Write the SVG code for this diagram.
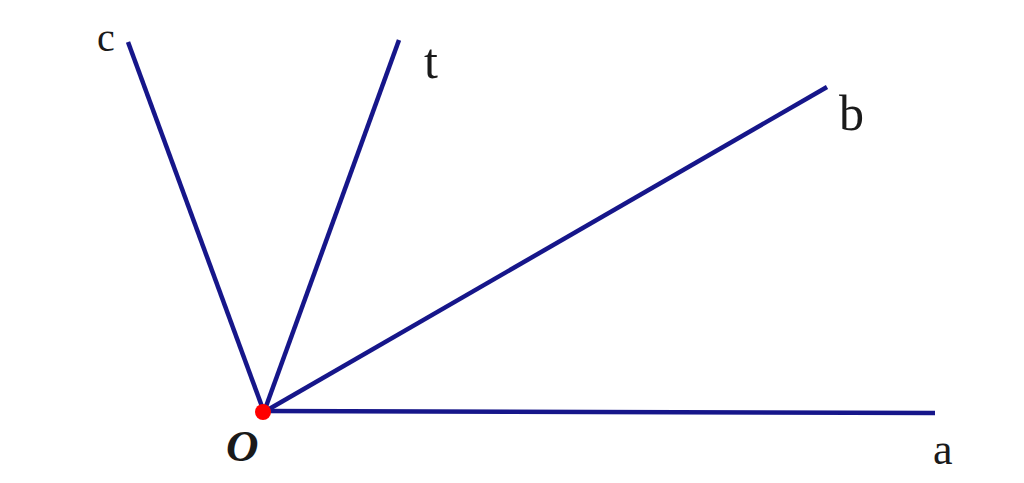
<svg xmlns="http://www.w3.org/2000/svg" width="1024" height="483" viewBox="0 0 1024 483">
<style>
.ray{stroke:#16168a;stroke-width:4.5;stroke-linecap:butt;fill:none}
.lbl{font-family:"Liberation Serif",serif;fill:#1a1a1a}
</style>
<rect width="1024" height="483" fill="#ffffff"/>
<g id="connectors">
<line class="ray" x1="264" y1="412" x2="128" y2="42"/>
<line class="ray" x1="264" y1="412" x2="399" y2="40"/>
<line class="ray" x1="264" y1="412" x2="827" y2="87"/>
<line class="ray" x1="264" y1="411" x2="935" y2="413"/>
</g>
<g id="O"><circle cx="263" cy="412" r="8" fill="#ff0000"/><text class="lbl" x="226" y="461" font-weight="bold" font-style="italic" font-size="45">O</text></g>
<g id="c"><text class="lbl" x="97" y="51" font-size="40">c</text></g>
<g id="t"><text class="lbl" x="424" y="78" font-size="50">t</text></g>
<g id="b"><text class="lbl" x="839" y="130" font-size="50">b</text></g>
<g id="a"><text class="lbl" x="933" y="464" font-size="44">a</text></g>
</svg>
